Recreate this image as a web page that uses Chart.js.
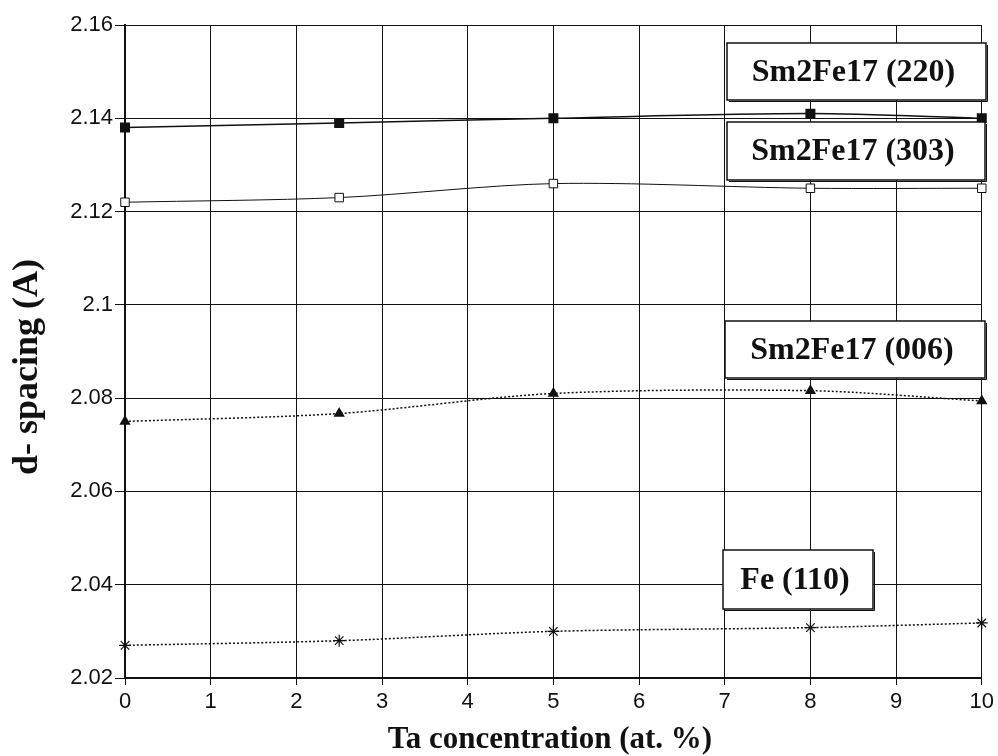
<!DOCTYPE html>
<html>
<head>
<meta charset="utf-8">
<script src="https://cdn.jsdelivr.net/npm/chart.js@4/dist/chart.umd.min.js"></script>
<style>
  html, body { margin: 0; padding: 0; background: #fff; }
  #wrap { width: 998px; height: 756px; }
</style>
</head>
<body>
<div id="wrap"><canvas id="chart" width="998" height="756"></canvas></div>
<script>
const taConc = [0, 2.5, 5, 8, 10];
const sm220 = [2.138, 2.139, 2.140, 2.141, 2.140];
const sm303 = [2.122, 2.123, 2.126, 2.125, 2.125];
const sm006 = [2.075, 2.0767, 2.081, 2.0816, 2.0794];
const fe110 = [2.027, 2.028, 2.030, 2.0308, 2.0318];

const xTickLabels = ['0', '1', '2', '3', '4', '5', '6', '7', '8', '9', '10'];
const yTickLabels = ['2.02', '2.04', '2.06', '2.08', '2.1', '2.12', '2.14', '2.16'];

const xTitle = 'Ta concentration (at. %)';
const yTitle = 'd- spacing (A)';

// ラベル枠（系列名）
const labelBoxes = [
  { text: 'Sm2Fe17 (220)', x: 727, y: 43, w: 259, h: 57 },
  { text: 'Sm2Fe17 (303)', x: 727, y: 122, w: 258, h: 58 },
  { text: 'Sm2Fe17 (006)', x: 725, y: 321, w: 260, h: 57 },
  { text: 'Fe (110)', x: 723, y: 550, w: 150, h: 59 }
];

function pts(ys) {
  return taConc.map(function(x, i) { return { x: x, y: ys[i] }; });
}

const boxPlugin = {
  id: 'boxes',
  afterDatasetsDraw: function(chart) {
    const ctx = chart.ctx;
    ctx.save();
    labelBoxes.forEach(function(b) {
      ctx.fillStyle = '#fff';
      ctx.fillRect(b.x, b.y, b.w, b.h);
      ctx.strokeStyle = '#111';
      ctx.lineWidth = 1.5;
      ctx.strokeRect(b.x, b.y, b.w, b.h);
      // 影
      ctx.lineWidth = 1;
      ctx.beginPath();
      ctx.moveTo(b.x + b.w + 1.5, b.y + 2);
      ctx.lineTo(b.x + b.w + 1.5, b.y + b.h + 1.5);
      ctx.lineTo(b.x + 2, b.y + b.h + 1.5);
      ctx.stroke();
      ctx.fillStyle = '#111';
      ctx.font = 'bold 32px "Liberation Serif", "Times New Roman", serif';
      ctx.textAlign = 'center';
      ctx.textBaseline = 'middle';
      ctx.fillText(b.text, b.x + b.w / 2 - 3, b.y + b.h / 2 + 1);
    });

    // 軸タイトル
    ctx.fillStyle = '#111';
    ctx.textAlign = 'center';
    ctx.textBaseline = 'middle';
    ctx.font = 'bold 31px "Liberation Serif", "Times New Roman", serif';
    ctx.fillText(xTitle, 550, 740);
    ctx.translate(28, 367);
    ctx.rotate(-Math.PI / 2);
    ctx.font = 'bold 36px "Liberation Serif", "Times New Roman", serif';
    ctx.fillText(yTitle, 0, 0);
    ctx.restore();
  }
};

new Chart(document.getElementById('chart'), {
  type: 'line',
  data: {
    datasets: [{
      label: 'Sm2Fe17 (220)',
      data: pts(sm220),
      borderColor: '#111',
      borderWidth: 1.5,
      pointStyle: 'rect',
      pointRadius: 6,
      pointBackgroundColor: '#111',
      pointBorderColor: '#111',
      tension: 0.3,
      clip: false
    }, {
      label: 'Sm2Fe17 (303)',
      data: pts(sm303),
      borderColor: '#111',
      borderWidth: 1,
      pointStyle: 'rect',
      pointRadius: 6,
      pointBackgroundColor: '#fff',
      pointBorderColor: '#111',
      pointBorderWidth: 1,
      tension: 0.3,
      clip: false
    }, {
      label: 'Sm2Fe17 (006)',
      data: pts(sm006),
      borderColor: '#111',
      borderWidth: 1.5,
      borderDash: [2, 2],
      pointStyle: 'triangle',
      pointRadius: 5,
      pointBackgroundColor: '#111',
      pointBorderColor: '#111',
      tension: 0.3,
      clip: false
    }, {
      label: 'Fe (110)',
      data: pts(fe110),
      borderColor: '#111',
      borderWidth: 1.5,
      borderDash: [2, 2],
      pointStyle: 'star',
      pointRadius: 6,
      pointBorderColor: '#111',
      pointBorderWidth: 1.2,
      tension: 0.3,
      clip: false
    }]
  },
  options: {
    responsive: false,
    animation: false,
    layout: { padding: { top: 25, right: 11, left: 0, bottom: 0 } },
    plugins: {
      legend: { display: false },
      tooltip: { enabled: false }
    },
    scales: {
      x: {
        type: 'linear',
        min: 0,
        max: 10,
        afterFit: function(s) { s.height = 78; },
        ticks: {
          stepSize: 1,
          color: '#111',
          padding: 4,
          font: { family: '"Liberation Sans", Arial, sans-serif', size: 22 },
          callback: function(v, i) { return xTickLabels[i]; }
        },
        grid: { color: '#111', lineWidth: 1, tickLength: 7 },
        border: { color: '#111', width: 1.5 }
      },
      y: {
        min: 2.02,
        max: 2.16,
        afterFit: function(s) { s.width = 125; },
        ticks: {
          stepSize: 0.02,
          color: '#111',
          padding: 2,
          font: { family: '"Liberation Sans", Arial, sans-serif', size: 22 },
          callback: function(v, i) { return yTickLabels[i]; }
        },
        grid: { color: '#111', lineWidth: 1, tickLength: 10 },
        border: { color: '#111', width: 2 }
      }
    }
  },
  plugins: [boxPlugin]
});
</script>
</body>
</html>
